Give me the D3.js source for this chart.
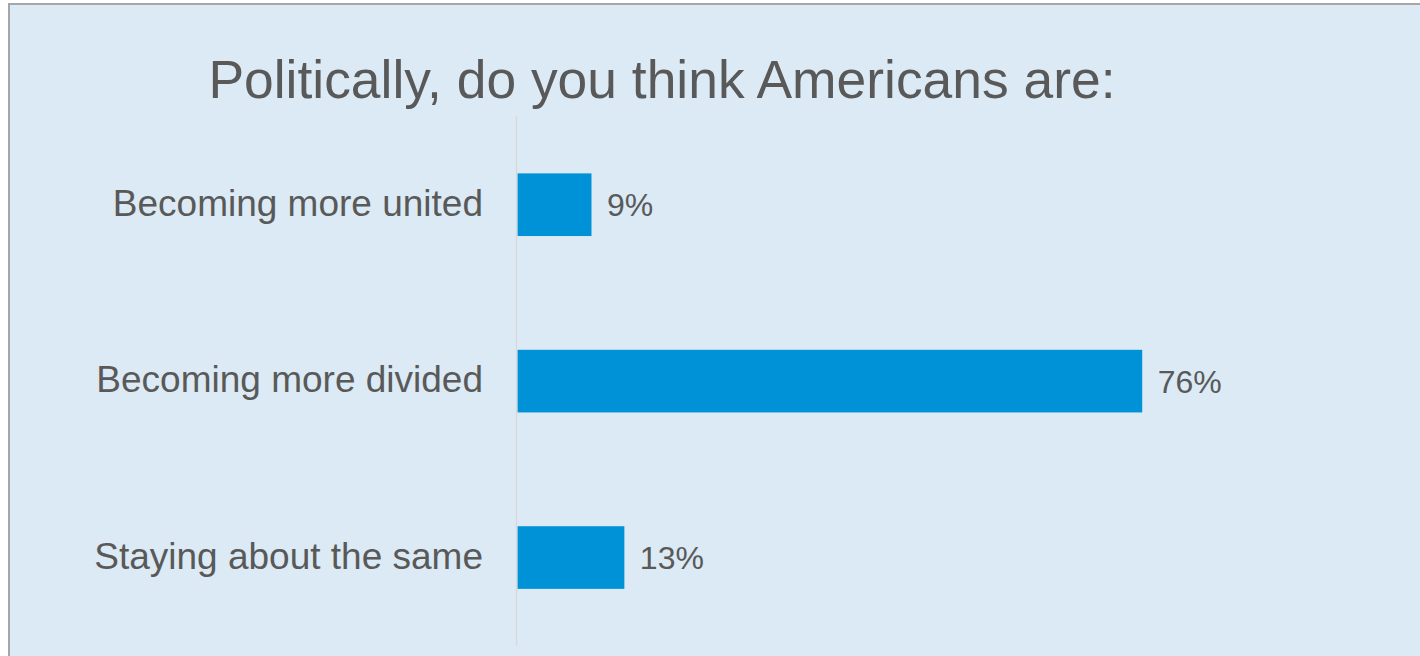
<!DOCTYPE html>
<html>
<head>
<meta charset="utf-8">
<script src="https://cdn.jsdelivr.net/npm/d3@7"></script>
<style>
  html, body { margin: 0; padding: 0; background: #ffffff; }
  svg { display: block; }
</style>
</head>
<body>
<svg id="chart"></svg>
<script>
// données du graphique
const categories = ["Becoming more united", "Becoming more divided", "Staying about the same"];
const values = [9, 76, 13];
const valueLabels = ["9%", "76%", "13%"];
const title = "Politically, do you think Americans are:";

const width = 1420, height = 656;
const textColor = "#595959";

const svg = d3.select("#chart")
    .attr("width", width)
    .attr("height", height);

// fond + bordure
svg.append("rect")
    .attr("x", 9)
    .attr("y", 4)
    .attr("width", width)
    .attr("height", height)
    .attr("fill", "#dbeaf4")
    .attr("stroke", "#a6a6a6")
    .attr("stroke-width", 2);

// titre
svg.append("text")
    .attr("x", 662)
    .attr("y", 98)
    .attr("text-anchor", "middle")
    .attr("font-family", "Liberation Sans, Arial, sans-serif")
    .attr("font-size", "53.4px")
    .attr("fill", textColor)
    .text(title);

// échelles
const xScale = d3.scaleLinear()
    .domain([0, 100])
    .range([517.5, 1339.5]);

const yScale = d3.scaleBand()
    .domain(categories)
    .range([116.5, 645.75])
    .paddingInner(0.645)
    .paddingOuter(0.3225);

const data = categories.map((c, i) => ({ cat: c, value: values[i], label: valueLabels[i] }));

// barres
svg.selectAll("rect.bar")
    .data(data)
    .join("rect")
    .attr("class", "bar")
    .attr("x", xScale(0))
    .attr("y", d => yScale(d.cat))
    .attr("width", d => xScale(d.value) - xScale(0))
    .attr("height", yScale.bandwidth())
    .attr("fill", "#0092d6");

// axe vertical
svg.append("line")
    .attr("x1", 516.5)
    .attr("x2", 516.5)
    .attr("y1", yScale.range()[0])
    .attr("y2", yScale.range()[1])
    .attr("stroke", "#d9d9d9")
    .attr("stroke-width", 1.5);

// noms des catégories
svg.selectAll("text.cat")
    .data(data)
    .join("text")
    .attr("class", "cat")
    .attr("x", 483)
    .attr("y", d => yScale(d.cat) + yScale.bandwidth() / 2)
    .attr("dy", "0.3em")
    .attr("text-anchor", "end")
    .attr("font-family", "Liberation Sans, Arial, sans-serif")
    .attr("font-size", "37px")
    .attr("fill", textColor)
    .text(d => d.cat);

// valeurs
svg.selectAll("text.val")
    .data(data)
    .join("text")
    .attr("class", "val")
    .attr("x", d => xScale(d.value) + 15.5)
    .attr("y", d => yScale(d.cat) + yScale.bandwidth() / 2)
    .attr("dy", "0.36em")
    .attr("font-family", "Liberation Sans, Arial, sans-serif")
    .attr("font-size", "32px")
    .attr("fill", textColor)
    .text(d => d.label);
</script>
</body>
</html>
